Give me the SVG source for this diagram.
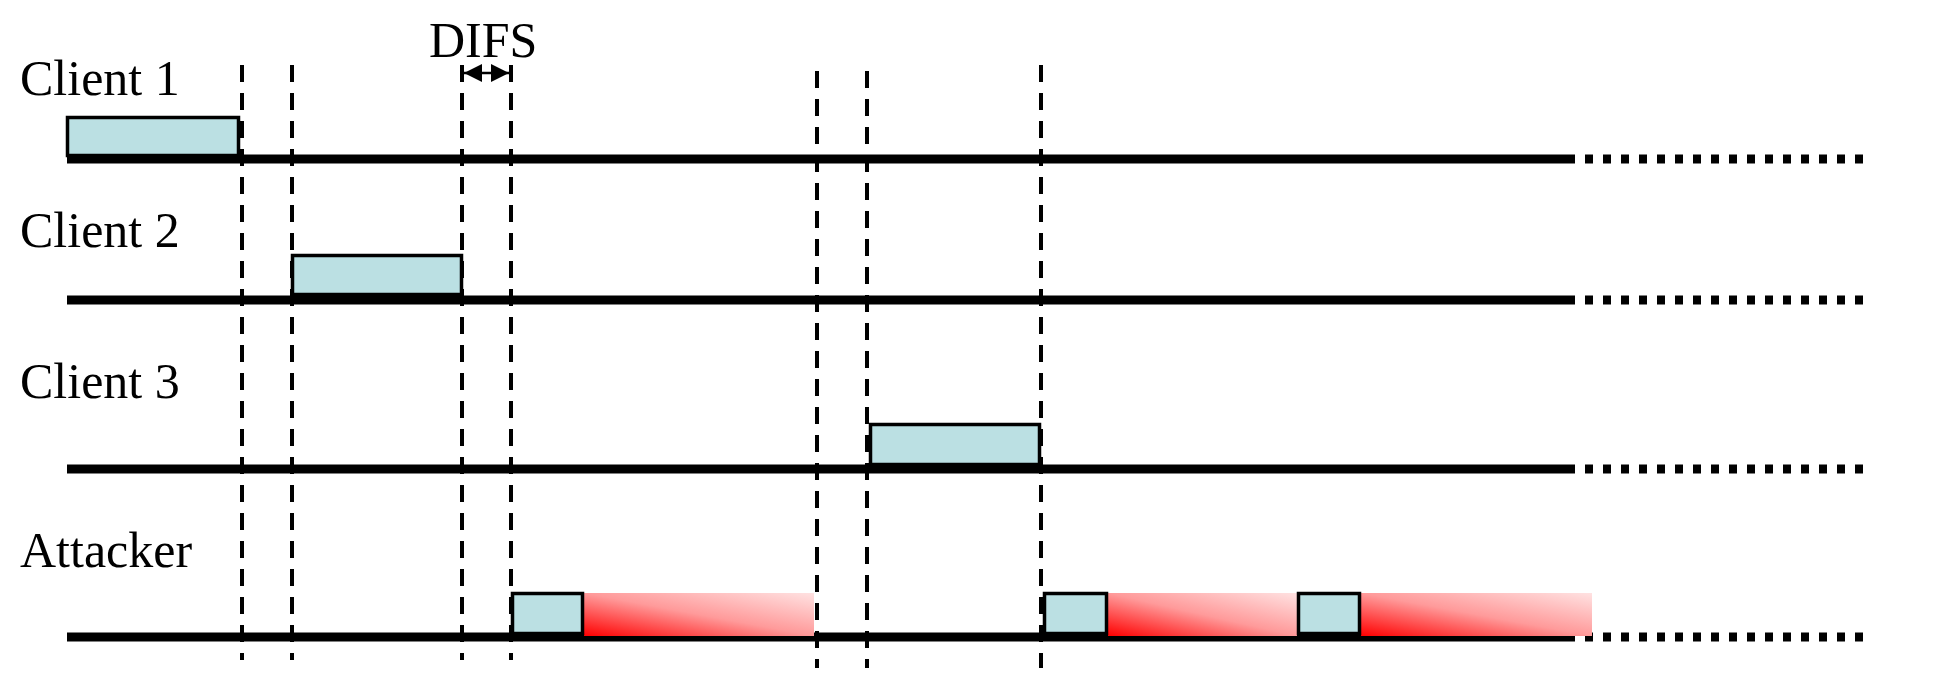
<svg xmlns="http://www.w3.org/2000/svg" width="1950" height="675" viewBox="0 0 1950 675">
  <defs>
    <linearGradient id="jam" x1="0" y1="1" x2="1" y2="0">
      <stop offset="0" stop-color="#ff0000"/>
      <stop offset="0.5" stop-color="#ff9a9a"/>
      <stop offset="1" stop-color="#ffe2e2"/>
    </linearGradient>
    <marker id="ah" viewBox="0 0 10 10" refX="10" refY="5" markerUnits="userSpaceOnUse" markerWidth="19" markerHeight="18" orient="auto-start-reverse">
      <path d="M0,0 L10,5 L0,10 z" fill="#000"/>
    </marker>
    <style>
      .lbl { font-family: "Liberation Serif", "Times New Roman", serif; font-size: 50px; fill: #000; }
      .tl { stroke: #000; stroke-width: 9; fill: none; }
      .tld { stroke: #000; stroke-width: 9; fill: none; stroke-dasharray: 8 10; }
      .pkt { fill: #bbe0e3; stroke: #000; stroke-width: 3.5; }
      .jam { fill: url(#jam); stroke: none; }
      .dash { stroke: #000; stroke-width: 4; stroke-dasharray: 17 11; fill: none; }
    </style>
  </defs>
  <rect width="1950" height="675" fill="#fff"/>

  <g id="client1">
    <text class="lbl" x="20" y="95">Client 1</text>
    <line class="tl" x1="67" y1="159" x2="1567" y2="159"/>
    <line class="tld" x1="1567" y1="159" x2="1863" y2="159"/>
    <rect class="pkt" x="67.5" y="117.5" width="171" height="38"/>
  </g>

  <g id="client2">
    <text class="lbl" x="20" y="247">Client 2</text>
    <line class="tl" x1="67" y1="300" x2="1567" y2="300"/>
    <line class="tld" x1="1567" y1="300" x2="1863" y2="300"/>
    <rect class="pkt" x="292.5" y="255.5" width="169" height="39"/>
  </g>

  <g id="client3">
    <text class="lbl" x="20" y="398">Client 3</text>
    <line class="tl" x1="67" y1="469" x2="1567" y2="469"/>
    <line class="tld" x1="1567" y1="469" x2="1863" y2="469"/>
    <rect class="pkt" x="870.5" y="424.5" width="169" height="40"/>
  </g>

  <g id="attacker">
    <text class="lbl" x="20" y="567">Attacker</text>
    <line class="tl" x1="67" y1="637" x2="1567" y2="637"/>
    <line class="tld" x1="1567" y1="637" x2="1863" y2="637"/>
    <rect class="jam" x="584" y="593" width="230" height="43"/>
    <rect class="jam" x="1108" y="593" width="189" height="43"/>
    <rect class="jam" x="1361" y="593" width="231" height="43"/>
    <rect class="pkt" x="512.5" y="593.5" width="70" height="40"/>
    <rect class="pkt" x="1044.5" y="593.5" width="62" height="40"/>
    <rect class="pkt" x="1298.5" y="593.5" width="61" height="40"/>
  </g>

  <g id="connectors">
    <line class="dash" x1="242" y1="65" x2="242" y2="660"/>
    <line class="dash" x1="292" y1="65" x2="292" y2="660"/>
    <line class="dash" x1="462" y1="65" x2="462" y2="660"/>
    <line class="dash" x1="511" y1="65" x2="511" y2="660"/>
    <line class="dash" x1="817" y1="71" x2="817" y2="668"/>
    <line class="dash" x1="867" y1="71" x2="867" y2="668"/>
    <line class="dash" x1="1041" y1="65" x2="1041" y2="668"/>
    <line x1="464" y1="73" x2="509" y2="73" stroke="#000" stroke-width="2.5" marker-start="url(#ah)" marker-end="url(#ah)"/>
  </g>

  <g id="difs">
    <text class="lbl" x="429" y="57">DIFS</text>
  </g>
</svg>
